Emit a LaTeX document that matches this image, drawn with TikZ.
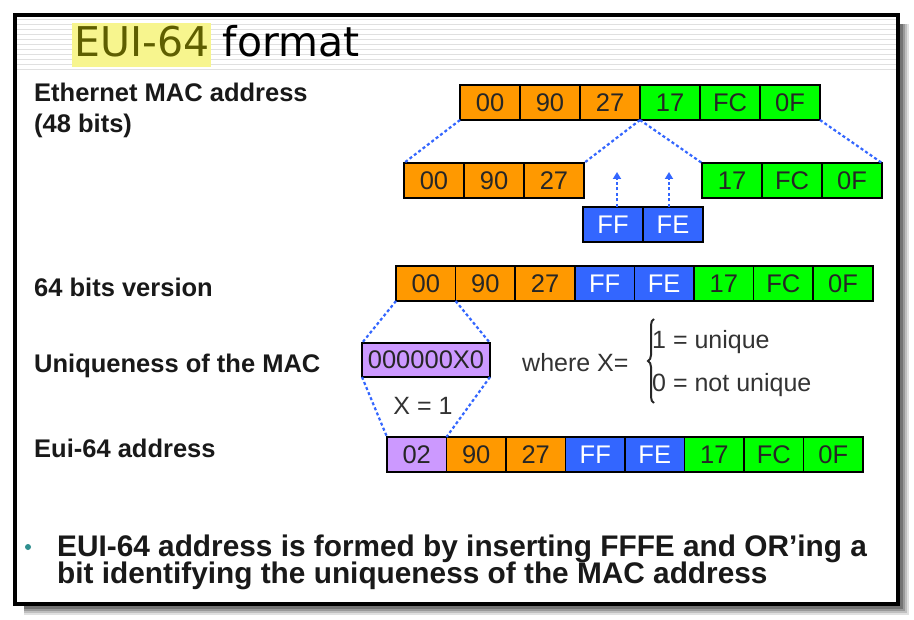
\documentclass[tikz,border=0pt]{standalone}
\usepackage{fontspec}
\setmainfont{Liberation Sans}
\newfontfamily\titlefont{DejaVu Sans}
\usetikzlibrary{positioning,decorations.pathreplacing,arrows.meta}

\definecolor{macorange}{HTML}{FF9900}
\definecolor{macgreen}{HTML}{00FF00}
\definecolor{macblue}{HTML}{3366FF}
\definecolor{macpurple}{HTML}{CC99FF}
\definecolor{linkblue}{HTML}{3366FF}
\definecolor{hilite}{HTML}{F7F58E}
\definecolor{titleolive}{HTML}{5E5E00}
\definecolor{bulletteal}{HTML}{2F8F8F}

\begin{document}
\begin{tikzpicture}[x=1pt, y=-1pt,
    octet/.style={draw=black, line width=1.6pt, minimum width=60pt, minimum height=35pt,
        inner sep=0pt, outer sep=0pt, font=\fontsize{25.5}{25.5}\selectfont, text=black!85},
    org/.style={octet, fill=macorange},
    grn/.style={octet, fill=macgreen},
    blu/.style={octet, fill=macblue, text=white},
    pur/.style={octet, fill=macpurple},
    link/.style={draw=linkblue, line width=2.2pt, dash pattern=on 3pt off 2.5pt},
    rowlabel/.style={anchor=base west, inner sep=0pt, font=\fontsize{25.5}{25.5}\selectfont\bfseries, text=black!90},
    plain/.style={anchor=base west, inner sep=0pt, font=\fontsize{25}{25}\selectfont, text=black!80}]

    \useasboundingbox (0,0) rectangle (914,620);

    % slide frame with its shadow
    \foreach \s/\op in {11/0.12, 9/0.15, 7/0.2, 5/0.25}
        \fill[black, opacity=\op] (24,24) rectangle (898+\s,604+\s);
    \fill[white] (15,15) rectangle (898,604);
    \foreach \y in {20,25,...,70}
        \draw[black!12, line width=1pt] (17,\y) -- (896,\y);
    \draw[black, line width=3.5pt] (15,15) rectangle (898,604);

    % title
    \node[anchor=base west, fill=hilite, inner xsep=2pt, inner ysep=0pt, text height=34pt, text depth=10pt,
        font=\titlefont\fontsize{41}{41}\selectfont, text=titleolive] (eui) at (72,57) {EUI-64};
    \node[anchor=base west, inner sep=0pt, font=\titlefont\fontsize{41}{41}\selectfont]
        (fmt) at ([xshift=11pt]eui.base east) {format};

    % row labels
    \node[rowlabel] (lmac) at (34,102) {Ethernet MAC address};
    \node[rowlabel] (lbits) at (34,133) {(48 bits)};
    \node[rowlabel] (l64) at (34,297) {64 bits version};
    \node[rowlabel] (luniq) at (34,373) {Uniqueness of the MAC};
    \node[rowlabel] (leui) at (34,457) {Eui-64 address};

    % MAC address
    \node[org, anchor=north west] (m1) at (460,85) {00};
    \node[org, right=0pt of m1] (m2) {90};
    \node[org, right=0pt of m2] (m3) {27};
    \node[grn, right=0pt of m3] (m4) {17};
    \node[grn, right=0pt of m4] (m5) {FC};
    \node[grn, right=0pt of m5] (m6) {0F};

    % split halves and the inserted bytes
    \node[org, anchor=north west] (s1) at (404,163) {00};
    \node[org, right=0pt of s1] (s2) {90};
    \node[org, right=0pt of s2] (s3) {27};
    \node[grn, anchor=north west] (s4) at (702,163) {17};
    \node[grn, right=0pt of s4] (s5) {FC};
    \node[grn, right=0pt of s5] (s6) {0F};
    \node[blu, anchor=north west] (ff) at (583,207) {FF};
    \node[blu, right=0pt of ff] (fe) {FE};

    \draw[link] (m1.south west) -- (s1.north west);
    \draw[link] (m3.south east) -- (s3.north east);
    \draw[link] (m3.south east) -- (s4.north west);
    \draw[link] (m6.south east) -- (s6.north east);

    \coordinate (ffup) at (617,172);
    \coordinate (feup) at (669,172);
    \draw[link, -{Triangle[length=7pt, width=8pt]}] ([xshift=4pt]ff.north) -- (ffup);
    \draw[link, -{Triangle[length=7pt, width=8pt]}] ([xshift=-4pt]fe.north) -- (feup);

    % 64 bits version
    \begin{scope}[octet/.append style={minimum width=59.6pt}]
    \node[org, anchor=north west] (v1) at (396,266) {00};
    \node[org, right=0pt of v1] (v2) {90};
    \node[org, right=0pt of v2] (v3) {27};
    \node[blu, right=0pt of v3] (v4) {FF};
    \node[blu, right=0pt of v4] (v5) {FE};
    \node[grn, right=0pt of v5] (v6) {17};
    \node[grn, right=0pt of v6] (v7) {FC};
    \node[grn, right=0pt of v7] (v8) {0F};
    \end{scope}

    % uniqueness bit
    \node[pur, anchor=north west, minimum width=128pt, minimum height=34pt] (ux) at (362,343) {000000X0};
    \node[plain] (where) at (522,372) {where X=};
    \node[plain] (uone) at (652,349) {1 = unique};
    \node[plain] (uzero) at (652,392) {0 = not unique};
    \draw[black!85, line width=2pt, decorate, decoration={brace, amplitude=6pt}] (654,403) -- (654,319);
    \node[plain, anchor=base] (xone) at (423,415) {X = 1};

    % EUI-64 address
    \begin{scope}[octet/.append style={minimum width=59.5pt}]
    \node[pur, anchor=north west] (e1) at (387,437) {02};
    \node[org, right=0pt of e1] (e2) {90};
    \node[org, right=0pt of e2] (e3) {27};
    \node[blu, right=0pt of e3] (e4) {FF};
    \node[blu, right=0pt of e4] (e5) {FE};
    \node[grn, right=0pt of e5] (e6) {17};
    \node[grn, right=0pt of e6] (e7) {FC};
    \node[grn, right=0pt of e7] (e8) {0F};
    \end{scope}

    \draw[link] (v1.south west) -- (ux.north west);
    \draw[link] (v1.south east) -- (ux.north east);
    \draw[link] (ux.south west) -- (e1.north west);
    \draw[link] (ux.south east) -- (e1.north east);

    % summary
    \node[circle, fill=bulletteal, inner sep=0pt, minimum size=6pt] (dot) at (28,547) {};
    \node[rowlabel, font=\fontsize{29.8}{29.8}\selectfont\bfseries] (sum1) at (57,556)
        {EUI-64 address is formed by inserting FFFE and OR’ing a};
    \node[rowlabel, font=\fontsize{29.8}{29.8}\selectfont\bfseries] (sum2) at (57,583)
        {bit identifying the uniqueness of the MAC address};
\end{tikzpicture}
\end{document}
